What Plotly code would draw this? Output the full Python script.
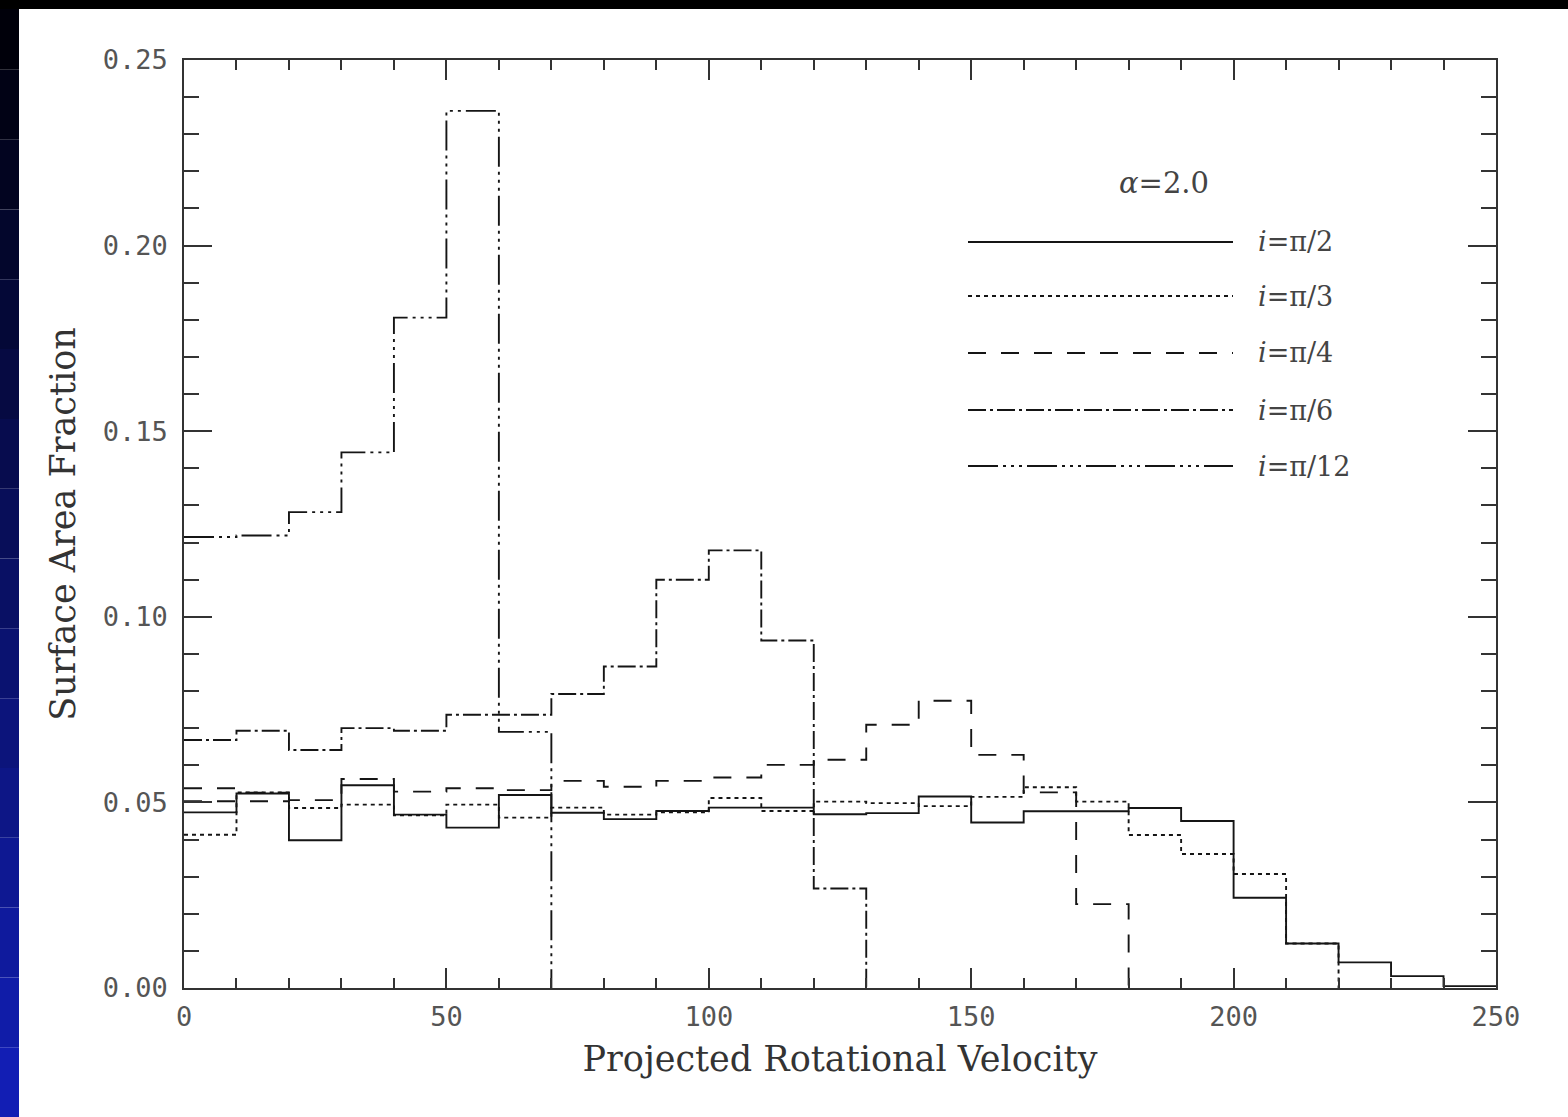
import plotly.graph_objects as go

# ---------------- data (histogram bins of width 10 from 0 to 250) ----------------
bin_edges = [0, 10, 20, 30, 40, 50, 60, 70, 80, 90, 100, 110, 120, 130, 140, 150,
             160, 170, 180, 190, 200, 210, 220, 230, 240, 250]

frac_pi2 = [0.0473, 0.0524, 0.0398, 0.0546, 0.0467, 0.0432, 0.0520, 0.0472, 0.0455, 0.0477,
            0.0486, 0.0486, 0.0468, 0.0471, 0.0516, 0.0446, 0.0476, 0.0476, 0.0485, 0.0450,
            0.0243, 0.0120, 0.0069, 0.0032, 0.0005]
frac_pi3 = [0.0413, 0.0527, 0.0485, 0.0494, 0.0465, 0.0494, 0.0459, 0.0486, 0.0467, 0.0473,
            0.0512, 0.0477, 0.0502, 0.0498, 0.0490, 0.0515, 0.0541, 0.0502, 0.0412, 0.0361,
            0.0307, 0.0120, 0.0, 0.0, 0.0]
frac_pi4 = [0.0503, 0.0503, 0.0506, 0.0563, 0.0529, 0.0538, 0.0533, 0.0558, 0.0542, 0.0558,
            0.0567, 0.0601, 0.0615, 0.0709, 0.0774, 0.0628, 0.0527, 0.0226, 0.0, 0.0,
            0.0, 0.0, 0.0, 0.0, 0.0]
frac_extra = [0.0538, 0.0526]  # extra short dashed segment visible at low velocity
frac_pi6 = [0.0668, 0.0693, 0.0641, 0.0700, 0.0693, 0.0736, 0.0736, 0.0792, 0.0866, 0.1100,
            0.1179, 0.0936, 0.0268, 0.0, 0.0, 0.0, 0.0, 0.0, 0.0, 0.0,
            0.0, 0.0, 0.0, 0.0, 0.0]
frac_pi12 = [0.1215, 0.1219, 0.1282, 0.1443, 0.1806, 0.2363, 0.0690, 0.0, 0.0, 0.0,
             0.0, 0.0, 0.0, 0.0, 0.0, 0.0, 0.0, 0.0, 0.0, 0.0,
             0.0, 0.0, 0.0, 0.0, 0.0]

series_labels = ["<i>i</i>=π/2", "<i>i</i>=π/3", "<i>i</i>=π/4", "<i>i</i>=π/6", "<i>i</i>=π/12"]
x_ticks = [0, 50, 100, 150, 200, 250]
y_ticks = [0.00, 0.05, 0.10, 0.15, 0.20, 0.25]

# ---------------- styles ----------------
INK = "#151515"
LW = 1.9
dashes = ["solid", "4px,4px", "18px,15px", "18px,4px,3px,4px", "30px,5px,3px,5px,3px,5px,3px,5px"]
all_series = [frac_pi2, frac_pi3, frac_pi4, frac_pi6, frac_pi12]


def step_xy(vals):
    # trim trailing zeros but keep the drop to zero
    n = len(vals)
    while n > 0 and vals[n - 1] == 0:
        n -= 1
    xs = bin_edges[:n + 1]
    if n < len(vals):
        ys = list(vals[:n]) + [0.0]
    else:
        ys = list(vals[:n]) + [vals[n - 1]]
    return xs, ys


fig = go.Figure()
for vals, dash, name in zip(all_series, dashes, series_labels):
    xs, ys = step_xy(vals)
    fig.add_trace(go.Scatter(x=xs, y=ys, mode="lines", line_shape="hv", name=name,
                             line=dict(color=INK, width=LW, dash=dash), showlegend=False))
# extra dashed segment
fig.add_trace(go.Scatter(x=bin_edges[:len(frac_extra) + 1], y=frac_extra + [frac_extra[-1]],
                         mode="lines", line_shape="hv", showlegend=False,
                         line=dict(color=INK, width=LW, dash=dashes[2])))

# ---------------- layout ----------------
L, R, T, B = 184, 1496, 60, 988
W, H = 1568, 1117


def xp(px):
    return (px - L) / (R - L)


def yp(py):
    return (B - py) / (B - T)


shapes = []
annotations = []

# slide background strips (left blue gradient, top black band)
nseg = 16
for k in range(nseg):
    y0 = k * H / nseg
    y1 = (k + 1) * H / nseg
    t = k / (nseg - 1)
    r = int(0 + 18 * t)
    g = int(0 + 30 * t)
    b = int(10 + 170 * t)
    shapes.append(dict(type="rect", xref="paper", yref="paper", x0=xp(0), x1=xp(19),
                       y0=yp(y1), y1=yp(y0), fillcolor=f"rgb({r},{g},{b})", line_width=0,
                       layer="below"))
shapes.append(dict(type="rect", xref="paper", yref="paper", x0=xp(0), x1=xp(W),
                   y0=yp(9), y1=yp(0), fillcolor="black", line_width=0, layer="below"))

# legend drawn in the style of the original
leg_y = [242, 296, 353, 410, 466]
labfont = dict(family="DejaVu Serif", size=27, color="#444444")
for dash, name, ly in zip(dashes, series_labels, leg_y):
    shapes.append(dict(type="line", xref="paper", yref="paper", x0=xp(968), x1=xp(1233),
                       y0=yp(ly), y1=yp(ly), line=dict(color=INK, width=LW, dash=dash)))
    annotations.append(dict(xref="paper", yref="paper", x=xp(1256), y=yp(ly), text=name,
                            showarrow=False, xanchor="left", yanchor="middle", font=labfont))
annotations.append(dict(xref="paper", yref="paper", x=xp(1164), y=yp(183), text="<i>α</i>=2.0",
                        showarrow=False, xanchor="center", yanchor="middle",
                        font=dict(family="DejaVu Serif", size=29, color="#444444")))

tickfont = dict(family="DejaVu Sans Mono", size=27, color="#555555")
titlefont = dict(family="DejaVu Serif", size=35, color="#333333")

fig.update_layout(
    width=W, height=H,
    margin=dict(l=L, r=W - R, t=T, b=H - B),
    paper_bgcolor="white", plot_bgcolor="white",
    shapes=shapes, annotations=annotations,
    showlegend=False,
)
fig.update_xaxes(range=[0, 250], tickvals=x_ticks, ticks="inside", ticklen=20, tickwidth=1.5,
                 tickcolor="#333333", showline=True, linecolor="#333333", linewidth=1.5,
                 mirror="ticks", showgrid=False, zeroline=False, tickfont=tickfont,
                 ticklabelstandoff=4,
                 minor=dict(dtick=10, ticks="inside", ticklen=10, tickwidth=1.5,
                            tickcolor="#333333", showgrid=False),
                 title=dict(text="Projected Rotational Velocity", font=titlefont, standoff=15))
fig.update_yaxes(range=[0, 0.25], tickvals=y_ticks, tickformat=".2f", ticks="inside", ticklen=28,
                 tickwidth=1.5, tickcolor="#333333", showline=True, linecolor="#333333",
                 linewidth=1.5, mirror="ticks", showgrid=False, zeroline=False, tickfont=tickfont,
                 ticklabelstandoff=9,
                 minor=dict(dtick=0.01, ticks="inside", ticklen=15, tickwidth=1.5,
                            tickcolor="#333333", showgrid=False),
                 title=dict(text="Surface Area Fraction", font=titlefont, standoff=17))

fig.write_html("out.html", config={"displayModeBar": False},
               post_script="document.body.style.margin='0px';document.body.style.padding='0px';")
